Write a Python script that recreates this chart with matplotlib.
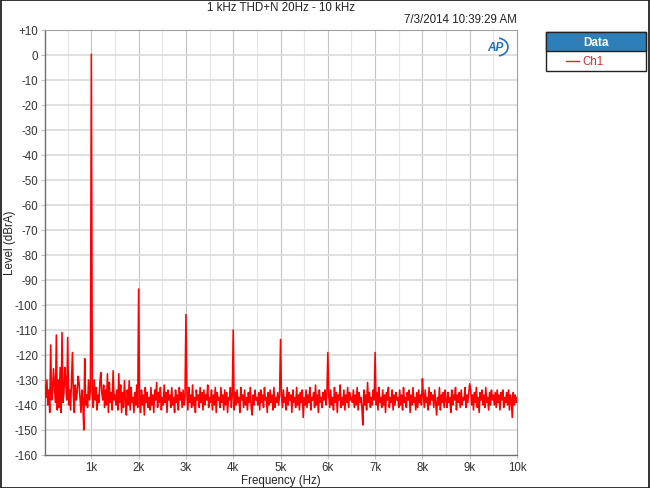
#!/usr/bin/env python3
"""1 kHz THD+N FFT spectrum, recreated in the style of an AP analyzer plot."""

import matplotlib

matplotlib.use("Agg")
import matplotlib.pyplot as plt
import numpy as np
from matplotlib.patches import Arc, Rectangle

plt.rcParams["font.family"] = ["Liberation Sans", "DejaVu Sans"]

# FFT bins, 20 Hz apart, from 20 Hz to 10 kHz
BIN_START_HZ = 20
BIN_STEP_HZ = 20

# noise floor in dBrA, one value per bin, 25 bins (500 Hz) per row
FLOOR_LEVELS = [
    -132, -137, -130, -140, -134, -143, -131, -138, -135, -144, -132, -139, -136, -142, -130, -141, -137, -143, -133, -139, -135, -141, -131, -138, -136,
    -140, -134, -142, -131, -139, -136, -143, -132, -138, -135, -141, -131, -137, -143, -134, -139, -150, -133, -140, -136, -141, -130, -138, -134, -137,
    -135, -141, -130, -138, -133, -142, -136, -139, -131, -143, -135, -138, -132, -141, -134, -140, -137, -143, -131, -139, -135, -142, -133, -138, -136,
    -140, -134, -142, -136, -139, -132, -143, -135, -141, -133, -138, -144, -134, -140, -136, -142, -133, -139, -137, -143, -135, -140, -132, -141, -136,
    -138, -143, -134, -140, -136, -144, -133, -139, -135, -141, -137, -142, -133, -140, -136, -143, -134, -138, -131, -141, -135, -139, -133, -142, -137,
    -140, -132, -139, -135, -143, -134, -138, -136, -141, -133, -140, -137, -143, -134, -139, -136, -142, -133, -138, -135, -141, -134, -140, -137, -139,
    -135, -142, -133, -139, -136, -141, -132, -140, -137, -143, -134, -138, -136, -141, -133, -139, -135, -142, -134, -140, -136, -138, -132, -141, -137,
    -139, -134, -142, -136, -140, -133, -143, -135, -138, -137, -141, -133, -139, -136, -142, -134, -140, -135, -143, -137, -138, -133, -141, -136, -139,
    -142, -135, -140, -134, -139, -137, -143, -133, -138, -136, -141, -134, -140, -137, -142, -135, -139, -133, -141, -144, -136, -140, -134, -138, -137,
    -140, -135, -142, -134, -139, -136, -141, -133, -138, -137, -143, -135, -140, -134, -139, -136, -142, -133, -141, -137, -139, -135, -140, -136, -138,
    -136, -141, -134, -139, -137, -142, -133, -140, -135, -138, -136, -143, -134, -139, -137, -141, -133, -140, -136, -142, -135, -139, -134, -145, -137,
    -140, -134, -141, -136, -139, -133, -142, -137, -138, -135, -141, -132, -140, -136, -143, -134, -139, -137, -141, -135, -138, -134, -140, -136, -139,
    -136, -141, -134, -140, -137, -142, -133, -139, -135, -143, -136, -138, -132, -141, -137, -140, -134, -142, -136, -139, -133, -141, -135, -138, -137,
    -139, -134, -141, -136, -140, -133, -142, -135, -139, -137, -141, -148, -134, -140, -136, -142, -131, -139, -135, -141, -137, -140, -134, -138, -136,
    -140, -135, -142, -133, -139, -137, -141, -134, -140, -136, -143, -135, -138, -133, -141, -137, -139, -134, -142, -136, -140, -135, -138, -137, -141,
    -134, -140, -136, -142, -133, -139, -137, -141, -135, -138, -134, -143, -136, -140, -133, -139, -137, -142, -135, -141, -134, -139, -136, -140, -138,
    -136, -141, -134, -139, -137, -142, -133, -140, -135, -138, -136, -141, -134, -139, -144, -137, -140, -133, -142, -136, -139, -135, -141, -134, -138,
    -141, -135, -139, -137, -143, -134, -140, -136, -138, -133, -142, -136, -139, -135, -141, -134, -140, -137, -138, -133, -141, -136, -139, -135, -137,
    -134, -140, -136, -142, -135, -139, -133, -141, -137, -143, -135, -138, -134, -140, -136, -141, -133, -139, -137, -142, -135, -140, -134, -138, -136,
    -140, -135, -141, -134, -139, -136, -142, -135, -138, -134, -141, -137, -139, -135, -140, -134, -142, -136, -138, -145, -135, -140, -136, -139, -137,
]

# fundamental and harmonics
HARMONIC_FREQS = [1000, 2000, 3000, 4000, 5000, 6000, 7000, 8000, 9000]
HARMONIC_LEVELS = [0.3, -93.6, -103.8, -110.0, -113.8, -119.0, -119.0, -129.5, -131.5]

# low frequency spurs
SPUR_FREQS = [140, 200, 260, 340, 380, 440, 500, 600, 720, 860, 1200, 1340, 1460, 1580, 1700, 1800, 2540]
SPUR_LEVELS = [-116, -125.5, -112, -125, -111, -125, -113, -119, -128.5, -121.5, -127, -127.5, -126.3, -127.5, -130.3, -130.3, -132]

X_TICKS = [1000, 2000, 3000, 4000, 5000, 6000, 7000, 8000, 9000, 10000]
X_TICK_LABELS = ["1k", "2k", "3k", "4k", "5k", "6k", "7k", "8k", "9k", "10k"]
Y_TICKS = list(range(10, -170, -10))
Y_TICK_LABELS = ["+10"] + [str(v) for v in Y_TICKS[1:]]

TRACE_COLOR = "#ff0000"
HEADER_BLUE = "#2e7fb8"


def build_spectrum():
    levels = np.array(FLOOR_LEVELS, dtype=float)
    freqs = BIN_START_HZ + BIN_STEP_HZ * np.arange(len(levels))
    for f, lvl in zip(SPUR_FREQS + HARMONIC_FREQS, SPUR_LEVELS + HARMONIC_LEVELS):
        idx = int(np.argmin(np.abs(freqs - f)))
        levels[idx] = lvl
    return freqs, levels


def px(x, y, w=650, h=489):
    return x / w, 1 - y / h


def main() -> None:
    freqs, levels = build_spectrum()

    fig = plt.figure(figsize=(6.5, 4.89), dpi=100)
    ax = fig.add_axes([45 / 650, 33 / 489, 472 / 650, 425 / 489])

    # grid: light 500 Hz lines, darker 1 kHz lines, horizontal every 10 dB
    for f in range(500, 10000, 1000):
        ax.axvline(f, color="#e6e6e6", linewidth=0.8, zorder=0)
    for f in X_TICKS[:-1]:
        ax.axvline(f, color="#c4c4c4", linewidth=0.8, zorder=0)
    for v in Y_TICKS[1:-1]:
        ax.axhline(v, color="#dadada", linewidth=1.2, zorder=0)

    ax.plot(freqs, levels, color=TRACE_COLOR, linewidth=1.15, zorder=3)

    ax.set_xlim(20, 10000)
    ax.set_ylim(-160, 10)
    ax.set_xticks(X_TICKS)
    ax.set_xticklabels(X_TICK_LABELS)
    ax.set_yticks(Y_TICKS)
    ax.set_yticklabels(Y_TICK_LABELS)
    ax.tick_params(axis="both", labelsize=8.3, colors="#333333", length=3,
                   width=0.8, pad=2)
    ax.tick_params(axis="x", color="#c4c4c4", pad=1.5)
    ax.tick_params(axis="y", color="#c4c4c4")
    for side in ["left", "bottom"]:
        ax.spines[side].set_color("#6e6e6e")
        ax.spines[side].set_linewidth(1.0)
    for side in ["top", "right"]:
        ax.spines[side].set_color("#a0a0a0")
        ax.spines[side].set_linewidth(0.8)

    fig.text(*px(281, 8), "1 kHz THD+N 20Hz - 10 kHz", ha="center", va="center",
             fontsize=8.3, color="#222222")
    fig.text(*px(517, 20), "7/3/2014 10:39:29 AM", ha="right", va="center",
             fontsize=8.3, color="#222222")
    fig.text(*px(281, 481), "Frequency (Hz)", ha="center", va="center",
             fontsize=8.3, color="#222222")
    fig.text(*px(10, 243), "Level (dBrA)", ha="center", va="center",
             rotation=90, fontsize=8.3, color="#222222")

    # AP logo
    fig.text(*px(495, 48), "AP", ha="center", va="center", fontsize=8.5,
             fontweight="bold", fontstyle="italic", color="#1f6fc0")
    fig.patches.append(Arc(px(497, 48), 22 / 650, 18 / 489, angle=0,
                           theta1=-80, theta2=80, color="#1f6fc0", linewidth=1.2,
                           transform=fig.transFigure, figure=fig))

    # legend box
    fig.patches.append(Rectangle(px(546, 72), 100 / 650, 39 / 489,
                                 facecolor="white", edgecolor="#222222",
                                 linewidth=1.0, transform=fig.transFigure, figure=fig))
    fig.patches.append(Rectangle(px(546, 52), 100 / 650, 19 / 489,
                                 facecolor=HEADER_BLUE, edgecolor="#222222",
                                 linewidth=1.0, transform=fig.transFigure, figure=fig))
    fig.text(*px(596, 43), "Data", ha="center", va="center", fontsize=8.5,
             fontweight="bold", color="white")
    fig.lines.append(plt.Line2D([566 / 650, 579 / 650], [1 - 62 / 489, 1 - 62 / 489],
                                color="#d03030", linewidth=1.0,
                                transform=fig.transFigure, figure=fig))
    fig.text(*px(582, 62), "Ch1", ha="left", va="center", fontsize=8.3,
             color="#d03030")

    # outer frame
    fig.patches.append(Rectangle((0.001, 0.001), 0.997, 0.997, facecolor="none",
                                 edgecolor="#111111", linewidth=1.2,
                                 transform=fig.transFigure, figure=fig))

    fig.savefig("out.png", dpi=100)
    plt.close(fig)


if __name__ == "__main__":
    main()
